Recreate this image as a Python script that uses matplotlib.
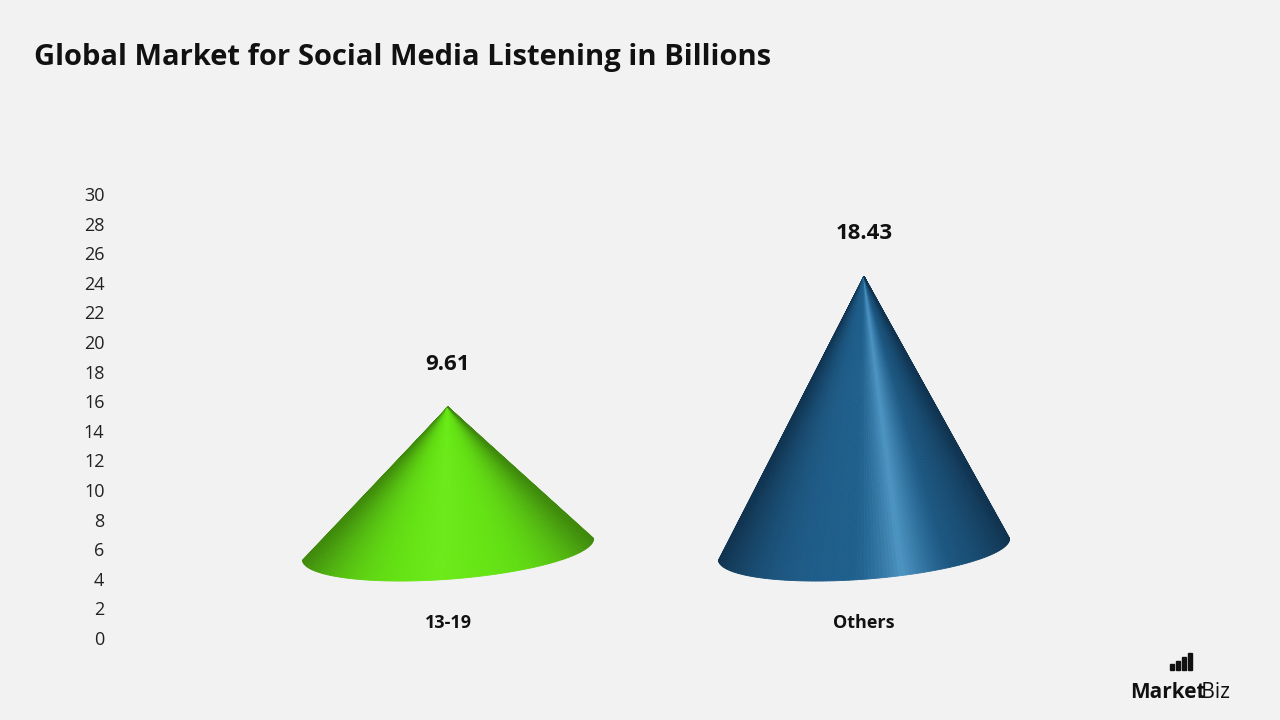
import numpy as np
import matplotlib.pyplot as plt
from matplotlib.patches import Polygon, Rectangle

categories = ['13-19', 'Others']
values = [9.61, 18.43]
edge_colors = [np.array([0x3f, 0x8a, 0x0c]) / 255, np.array([0x10, 0x33, 0x50]) / 255]
mid_colors = [np.array([0x66, 0xe6, 0x14]) / 255, np.array([0x1f, 0x5f, 0x8c]) / 255]
hi_colors = [np.array([0x6c, 0xea, 0x1a]) / 255, np.array([0x4e, 0x95, 0xc4]) / 255]
hi_pos = [-0.05, 0.25]
yticks = list(range(0, 31, 2))

base_y = 6.0
px_x = 416.0   # pixels per category unit
px_y = 14.8    # pixels per value unit
a_px, b_px, tilt = 146, 30, np.deg2rad(4.3)

bg = '#f2f2f2'
plt.rcParams['font.family'] = ['Open Sans', 'DejaVu Sans']
fig = plt.figure(figsize=(12.8, 7.2), dpi=100, facecolor=bg)
ax = fig.add_axes([110 / 1280, 82 / 720, 1090 / 1280, 444 / 720])
ax.set_facecolor(bg)
ax.set_xlim(-338 / px_x, 752 / px_x)
ax.set_ylim(0, 30)

def shade(i, t):
    # t in [-1, 1] across the cone
    d = abs(t - hi_pos[i])
    w = np.clip(1 - d / 0.35, 0, 1) ** 1.5
    base = mid_colors[i] * (1 - abs(t) ** 3) + edge_colors[i] * abs(t) ** 3
    return np.clip(base * (1 - w) + hi_colors[i] * w, 0, 1)

for i, v in enumerate(values):
    apex = (i, base_y + v)
    th = np.linspace(np.pi, 2 * np.pi, 120)
    ex = a_px * np.cos(th)
    ey = b_px * np.sin(th)
    rx = ex * np.cos(tilt) - ey * np.sin(tilt)
    ry = ex * np.sin(tilt) + ey * np.cos(tilt)
    pts = np.column_stack([i + rx / px_x, base_y + ry / px_y])
    tvals = np.cos(th)
    for k in range(len(pts) - 1):
        c = shade(i, (tvals[k] + tvals[k + 1]) / 2)
        ax.add_patch(Polygon([apex, pts[k], pts[k + 1]], closed=True,
                             facecolor=c, edgecolor=c, lw=0.6))
    ax.text(i, base_y + v + 2.9, f'{v:.2f}', ha='center', va='center',
            fontsize=16, fontweight='bold', color='#111111')
    ax.text(i, 1.0, categories[i], ha='center', va='center',
            fontsize=13, fontweight='bold', color='#111111')

ax.set_yticks(yticks)
ax.set_yticklabels([str(t) for t in yticks], fontsize=13, color='#222222')
ax.tick_params(axis='y', length=0, pad=4)
ax.set_xticks([])
for s in ax.spines.values():
    s.set_visible(False)

fig.text(34 / 1280, 1 - 58 / 720, 'Global Market for Social Media Listening in Billions',
         fontsize=21, fontweight='bold', color='#111111', va='center')

# logo
fig.text(1130 / 1280, 1 - 692 / 720, 'Market', fontsize=15, fontweight='bold',
         color='#111111', va='center')
fig.text(1197 / 1280, 1 - 692 / 720, '.Biz', fontsize=15, color='#111111', va='center')
for j, h in enumerate([6, 9, 13, 17]):
    fig.patches.append(Rectangle(((1170 + j * 6) / 1280, (720 - 686) / 720 + 16 / 720),
                                 3.5 / 1280, h / 720, transform=fig.transFigure,
                                 color='#111111'))

fig.savefig('out.png', dpi=100, facecolor=bg)
